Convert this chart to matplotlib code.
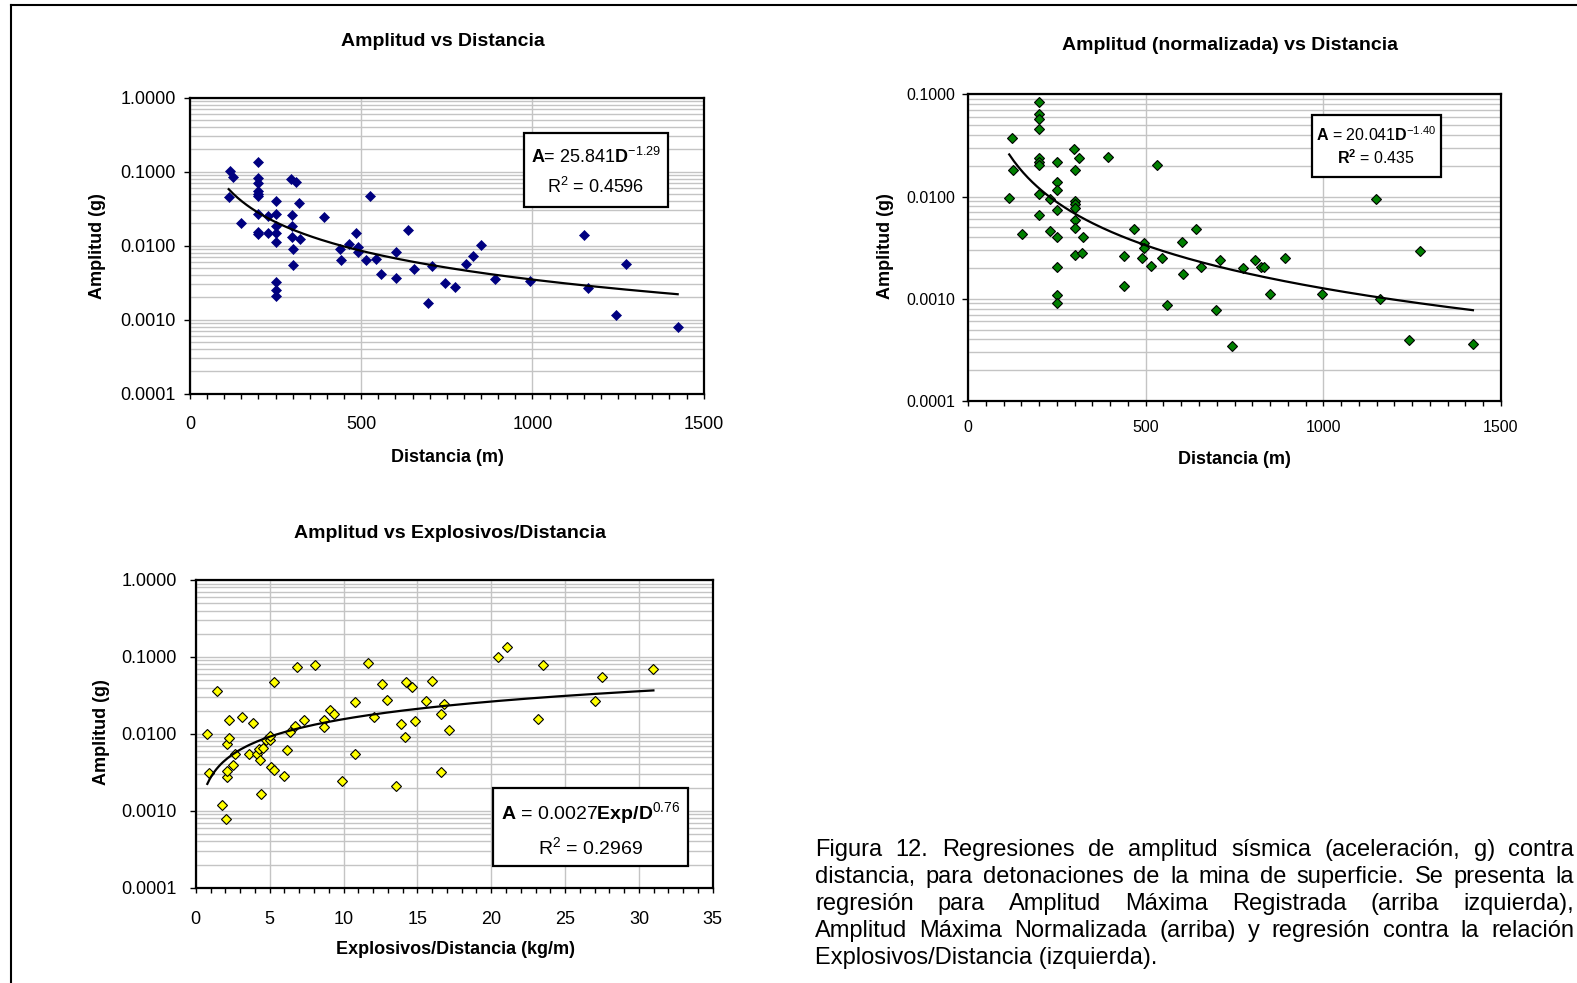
import matplotlib
matplotlib.use('Agg')
import matplotlib.pyplot as plt
import numpy as np
from matplotlib import font_manager
from matplotlib.lines import Line2D
from matplotlib.patches import Rectangle
from matplotlib.ticker import FixedLocator, MultipleLocator, LogLocator, NullFormatter, FuncFormatter

# --- data ---
# Amplitud vs Distancia
dist1 = [117, 125, 113, 200, 200, 200, 200, 200, 200, 149, 200, 200, 200, 228, 228,
         250, 250, 250, 250, 250, 250, 250, 250, 295, 310, 318, 298, 298, 298, 300,
         300, 321, 390, 437, 440, 465, 484, 492, 492, 513, 527, 544, 557, 602, 602,
         637, 655, 695, 706, 744, 773, 806, 826, 851, 892, 994, 1150, 1163, 1244,
         1274, 1424]
amp1 = [0.101, 0.0848, 0.0455, 0.137, 0.083, 0.0697, 0.0554, 0.0494, 0.047, 0.0205,
        0.0268, 0.0153, 0.0144, 0.0252, 0.015, 0.0406, 0.0271, 0.0185, 0.015, 0.01134,
        0.00327, 0.00249, 0.00209, 0.0797, 0.0733, 0.0374, 0.0263, 0.0185, 0.01325,
        0.00912, 0.00543, 0.01245, 0.0242, 0.00893, 0.00634, 0.01065, 0.015, 0.0095,
        0.00822, 0.00634, 0.0474, 0.0066, 0.00415, 0.0083, 0.00362, 0.0163, 0.0048,
        0.00166, 0.0054, 0.00313, 0.00277, 0.0056, 0.00733, 0.0102, 0.00351, 0.00337,
        0.01396, 0.00265, 0.00116, 0.00566, 0.00079]
fit1 = (25.841, -1.29)

# Amplitud (normalizada) vs Distancia
dist2 = [200, 200, 200, 200, 123, 200, 200, 200, 127, 116, 200, 200, 152, 230, 230,
         250, 250, 250, 250, 250, 250, 250, 250, 297, 311, 300, 300, 300, 300, 300,
         300, 300, 320, 324, 393, 440, 440, 468, 489, 496, 496, 515, 531, 546, 560,
         603, 606, 641, 656, 699, 709, 744, 775, 808, 825, 832, 850, 893, 997, 1149,
         1159, 1241, 1273, 1421]
amp2 = [0.0848, 0.0637, 0.057, 0.0455, 0.0371, 0.0237, 0.02165, 0.0204, 0.0182,
        0.00977, 0.0106, 0.00656, 0.00428, 0.00941, 0.00455, 0.02165, 0.0138, 0.01153,
        0.00735, 0.00403, 0.00204, 0.00109, 0.00091, 0.029, 0.0237, 0.0182, 0.009,
        0.00848, 0.00774, 0.00587, 0.0049, 0.00271, 0.00279, 0.00403, 0.0242, 0.00263,
        0.00134, 0.00479, 0.00249, 0.00352, 0.00312, 0.0021, 0.0205, 0.00249, 0.00087,
        0.0036, 0.00173, 0.00479, 0.00205, 0.000774, 0.00242, 0.000347, 0.00198,
        0.00242, 0.00205, 0.00205, 0.00112, 0.00249, 0.00112, 0.00948, 0.001,
        0.000391, 0.00294, 0.00036]
fit2 = (20.041, -1.40)

# Amplitud vs Explosivos/Distancia
ed3 = [0.78, 0.89, 1.46, 1.75, 2.07, 2.09, 2.13, 2.13, 2.22, 2.22, 2.52, 2.67, 3.10,
       3.62, 3.89, 4.12, 4.28, 4.32, 4.41, 4.55, 4.75, 5.0, 5.0, 5.09, 5.27, 5.32,
       5.99, 6.2, 6.35, 6.69, 6.87, 7.3, 8.09, 8.68, 8.68, 9.08, 9.35, 9.87, 10.8,
       10.8, 11.66, 12.09, 12.63, 12.94, 13.53, 13.89, 14.16, 14.2, 14.61, 14.84,
       15.6, 15.97, 16.58, 16.58, 16.82, 17.16, 20.44, 21.05, 23.15, 23.53, 27.03,
       27.48, 30.98]
amp3 = [0.00998, 0.0031, 0.0361, 0.00118, 0.00078, 0.00272, 0.00333, 0.00731, 0.00885,
        0.015, 0.00398, 0.00553, 0.0164, 0.00542, 0.01387, 0.00542, 0.0063, 0.00462,
        0.00167, 0.00662, 0.00825, 0.0083, 0.0094, 0.00375, 0.0034, 0.0469, 0.00284,
        0.00624, 0.0107, 0.01254, 0.0741, 0.015, 0.0795, 0.0153, 0.0124, 0.0205,
        0.0183, 0.00244, 0.0257, 0.00542, 0.0827, 0.0164, 0.045, 0.0276, 0.00208,
        0.01345, 0.0092, 0.0473, 0.0403, 0.01457, 0.0268, 0.0492, 0.0183, 0.0032,
        0.0247, 0.0111, 0.1005, 0.136, 0.0156, 0.0795, 0.0265, 0.0555, 0.069]
fit3 = (0.0027, 0.76)

ytick_vals = [0.0001, 0.001, 0.01, 0.1, 1.0]

caption = ["Figura 12. Regresiones de amplitud sísmica (aceleración, g) contra",
           "distancia, para detonaciones de la mina de superficie. Se presenta la",
           "regresión para Amplitud Máxima Registrada (arriba izquierda),",
           "Amplitud Máxima Normalizada (arriba) y regresión contra la relación",
           "Explosivos/Distancia (izquierda)."]

# --- fonts ---
plt.rcParams['font.family'] = ['Liberation Sans', 'DejaVu Sans']
plt.rcParams['mathtext.fontset'] = 'custom'
plt.rcParams['mathtext.rm'] = 'Liberation Sans'
plt.rcParams['mathtext.it'] = 'Liberation Sans:italic'
plt.rcParams['mathtext.bf'] = 'Liberation Sans:bold'
names = {f.name for f in font_manager.fontManager.ttflist}
NARROW = 'Liberation Sans Narrow' if 'Liberation Sans Narrow' in names else 'Liberation Sans'
narrow_size = 13 if NARROW == 'Liberation Sans Narrow' else 11.5

W, H = 1577, 983
fig = plt.figure(figsize=(W / 100, H / 100), dpi=100)


def px_axes(l, t, r, b):
    return fig.add_axes([l / W, 1 - b / H, (r - l) / W, (b - t) / H])


def ftext(x, y, s, **kw):
    return fig.text(x / W, 1 - y / H, s, **kw)


def style(ax, xmax, ymax, xmajor, xminor, lsize, lfam, xpad, ypad):
    ax.set_yscale('log')
    ax.set_ylim(1e-4, ymax)
    ax.set_xlim(0, xmax)
    ax.yaxis.set_major_locator(FixedLocator([v for v in ytick_vals if v <= ymax]))
    ax.yaxis.set_minor_locator(LogLocator(base=10, subs=np.arange(2, 10)))
    ax.yaxis.set_major_formatter(FuncFormatter(lambda v, p: '%.4f' % v))
    ax.yaxis.set_minor_formatter(NullFormatter())
    ax.xaxis.set_major_locator(MultipleLocator(xmajor))
    ax.xaxis.set_minor_locator(MultipleLocator(xminor))
    ax.grid(which='both', axis='y', color='#c4c4c4', lw=1)
    ax.grid(which='major', axis='x', color='#c4c4c4', lw=1)
    ax.set_axisbelow(True)
    ax.tick_params(axis='y', which='minor', length=0)
    ax.tick_params(axis='y', which='major', length=4.5, width=1, pad=ypad,
                   labelsize=lsize, labelfontfamily=lfam)
    ax.tick_params(axis='x', which='both', length=3.5, width=1, pad=xpad,
                   labelsize=lsize, labelfontfamily=lfam)
    for s in ax.spines.values():
        s.set_linewidth(1.6)


def box(l, t, r, b, lines, ys, size, fam='Liberation Sans'):
    fig.add_artist(Rectangle((l / W, 1 - b / H), (r - l) / W, (b - t) / H,
                             transform=fig.transFigure, facecolor='white',
                             edgecolor='black', lw=1.6, zorder=4))
    for s, y in zip(lines, ys):
        ftext((l + r) / 2, y, s, ha='center', va='center', fontsize=size,
              family=fam, zorder=5)


# outer frame
fig.add_artist(Line2D([11 / W, 11 / W], [0, 1 - 5 / H], color='black', lw=1.5))
fig.add_artist(Line2D([11 / W, 1], [1 - 5 / H, 1 - 5 / H], color='black', lw=1.5))

# --- top left ---
ax1 = px_axes(190, 97.7, 703.7, 393.7)
style(ax1, 1500, 1.0, 500, 50, 13, 'Liberation Sans', 12.5, 5.5)
ax1.plot(dist1, amp1, 'D', ms=5.4, mfc='#000080', mec='#000080', mew=0.5, zorder=3)
d = np.linspace(min(dist1), max(dist1), 200)
ax1.plot(d, fit1[0] * d ** fit1[1], color='black', lw=1.6, zorder=4)
ftext(443, 42, 'Amplitud vs Distancia', ha='center', va='center', fontsize=14, weight='bold')
ftext(447, 457, 'Distancia (m)', ha='center', va='center', fontsize=13, weight='bold')
ftext(97.5, 246, 'Amplitud (g)', ha='center', va='center', fontsize=13, weight='bold', rotation=90)
box(524, 133, 668, 207,
    [r'$\mathbf{A}$= 25.841$\mathbf{D}^{-1.29}$', r'R$^2$ = 0.4596'], [157, 187], 13)

# --- top right ---
ax2 = px_axes(968, 94.3, 1501, 401)
style(ax2, 1500, 0.1, 500, 50, narrow_size, NARROW, 10, 5)
ax2.plot(dist2, amp2, 'D', ms=5.4, mfc='#008000', mec='black', mew=0.8, zorder=3)
d = np.linspace(min(dist2), max(dist2), 200)
ax2.plot(d, fit2[0] * d ** fit2[1], color='black', lw=1.6, zorder=4)
ftext(1230, 46, 'Amplitud (normalizada) vs Distancia', ha='center', va='center',
      fontsize=14, weight='bold')
ftext(1234, 460, 'Distancia (m)', ha='center', va='center', fontsize=13, weight='bold')
ftext(885, 246, 'Amplitud (g)', ha='center', va='center', fontsize=13, weight='bold', rotation=90)
box(1312, 115, 1441, 177,
    [r'$\mathbf{A}$ = 20.041$\mathbf{D}^{-1.40}$', r'$\mathbf{R^2}$ = 0.435'], [135, 158], 11.5)

# --- bottom left ---
ax3 = px_axes(195.8, 580, 712.8, 887.7)
style(ax3, 35, 1.0, 5, 1, 13, 'Liberation Sans', 13.5, 9)
ax3.plot(ed3, amp3, 'D', ms=5.4, mfc='#ffff00', mec='black', mew=0.8, zorder=3)
e = np.linspace(min(ed3), max(ed3), 200)
ax3.plot(e, fit3[0] * e ** fit3[1], color='black', lw=1.6, zorder=4)
ftext(450, 533, 'Amplitud vs Explosivos/Distancia', ha='center', va='center',
      fontsize=14, weight='bold')
ftext(456, 949, 'Explosivos/Distancia (kg/m)', ha='center', va='center', fontsize=13, weight='bold')
ftext(101.6, 732, 'Amplitud (g)', ha='center', va='center', fontsize=13, weight='bold', rotation=90)
box(493, 788, 688, 866,
    [r'$\mathbf{A}$ = 0.0027$\mathbf{Exp/D}^{0.76}$', r'R$^2$ = 0.2969'], [813, 847], 14)

# --- justified caption ---
renderer = fig.canvas.get_renderer()
cap_x0, cap_x1, cap_size = 815, 1574, 17
for i, line in enumerate(caption):
    y = 850 + 27 * i
    if i == len(caption) - 1:
        ftext(cap_x0, y, line, ha='left', va='center', fontsize=cap_size)
        continue
    words = line.split(' ')
    texts = [ftext(0, y, w, ha='left', va='center', fontsize=cap_size) for w in words]
    widths = [t.get_window_extent(renderer).width for t in texts]
    gap = (cap_x1 - cap_x0 - sum(widths)) / (len(words) - 1)
    x = cap_x0
    for t, w in zip(texts, widths):
        t.set_x(x / W)
        x += w + gap

fig.savefig('out.png', dpi=100)
